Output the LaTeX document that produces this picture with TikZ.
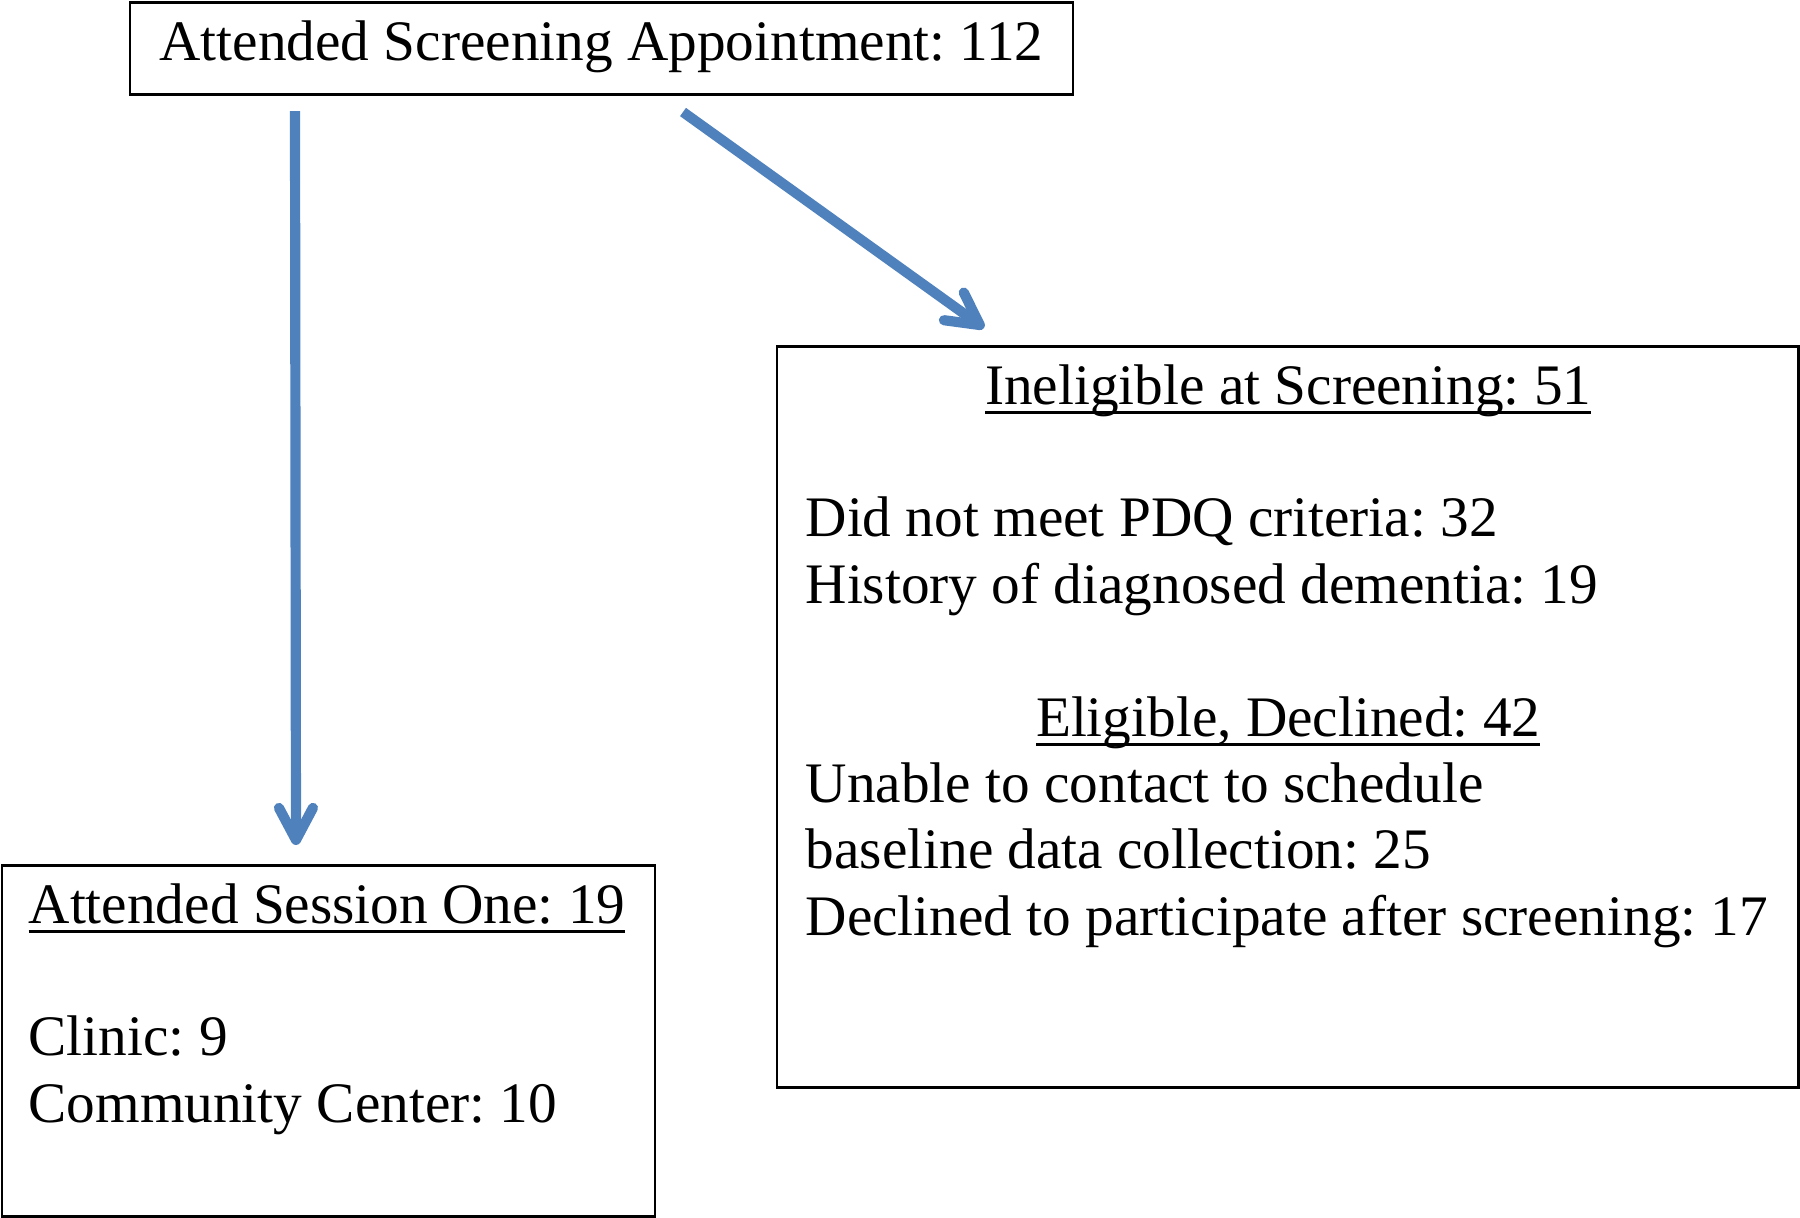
\documentclass[tikz,border=0pt]{standalone}
\usepackage{fontspec}
\setmainfont{Liberation Serif}
\usetikzlibrary{arrows.meta}
\usetikzlibrary{positioning}
\definecolor{arrowblue}{RGB}{79,129,189}
\newcommand{\ulhead}[1]{\setbox0\hbox{#1}\rlap{\rule[-2.8pt]{\wd0}{0.9pt}}\box0}

\begin{document}
\begin{tikzpicture}[
  font=\fontsize{16.3}{18.9}\selectfont\frenchspacing,
  box/.style={draw, line width=0.85pt, inner sep=0pt, outer sep=0pt},
  boxtext/.style={anchor=base west, inner sep=0pt, text width=#1, align=flush left},
  flowarrow/.style={arrowblue, line width=2.9pt, -{Straight Barb[length=3.2mm, width=3.4mm, line cap=round, line join=round]}}
]
\useasboundingbox (0,0) rectangle (18,-12.17);

% boxes
\node[box, minimum width=9.43cm, minimum height=0.92cm, text height=0.36cm, text depth=0.12cm] (screening) at (6.015,-0.48) {Attended Screening Appointment: 112};
\node[box, minimum width=6.53cm, minimum height=3.51cm] (session) at (3.285,-10.405) {};
\node[box, minimum width=10.21cm, minimum height=7.41cm] (ineligible) at (12.875,-7.165) {};

% box contents
\node[boxtext=6cm] (sessiontext) at ([shift={(0.26,-0.58)}]session.north west)
  {\ulhead{Attended Session One: 19}\\[\baselineskip]
   Clinic: 9\\
   Community Center: 10};
\node[boxtext=10cm] (ineligibletext) at ([shift={(0.28,-0.58)}]ineligible.north west)
  {\makebox[9.65cm]{\ulhead{Ineligible at Screening: 51}}\\[\baselineskip]
   Did not meet PDQ criteria: 32\\
   History of diagnosed dementia: 19\\[\baselineskip]
   \makebox[9.65cm]{\ulhead{Eligible, Declined: 42}}\\
   Unable to contact to schedule\\
   baseline data collection: 25\\
   Declined to participate after screening: 17};

% arrows
\draw[flowarrow] ([shift={(1.65,-0.17)}]screening.south west) -- ([shift={(2.94,0.20)}]session.north west);
\draw[flowarrow] ([shift={(5.53,-0.18)}]screening.south west) -- ([shift={(2.07,0.18)}]ineligible.north west);

\end{tikzpicture}
\end{document}
